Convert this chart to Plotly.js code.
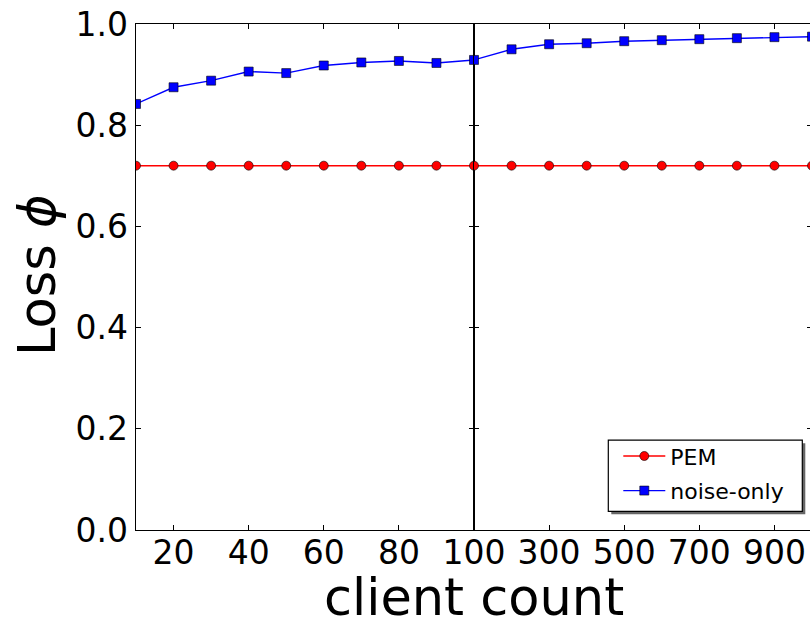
<!DOCTYPE html>
<html>
<head>
<meta charset="utf-8">
<script src="https://cdn.plot.ly/plotly-3.0.1.min.js"></script>
<style>
html,body{margin:0;padding:0;overflow:hidden;background:#fff;}
#chart{width:812px;height:618px;}
</style>
</head>
<body>
<div id="chart"></div>
<script>
// ---- data ----
var clientCounts = [10,20,30,40,50,60,70,80,90,100,200,300,400,500,600,700,800,900,1000];
var pemLoss      = [0.72,0.72,0.72,0.72,0.72,0.72,0.72,0.72,0.72,0.72,0.72,0.72,0.72,0.72,0.72,0.72,0.72,0.72,0.72];
var noiseLoss    = [0.842,0.875,0.888,0.906,0.903,0.918,0.924,0.927,0.923,0.929,0.950,0.960,0.962,0.966,0.968,0.970,0.972,0.974,0.975];
var leftTicks  = [20,40,60,80,100];
var rightTicks = [300,500,700,900];
var yTicks     = [0.0,0.2,0.4,0.6,0.8,1.0];
var seriesNames = ['PEM','noise-only'];

function pick(xs, ys, lo, hi){
  var ox=[], oy=[];
  for (var i=0;i<xs.length;i++){ if (xs[i]>=lo && xs[i]<=hi){ ox.push(xs[i]); oy.push(ys[i]); } }
  return {x:ox, y:oy};
}
var FONT = 'DejaVu Sans, Liberation Sans, sans-serif';
var pemStyle = {line:{color:'#ff0000',width:1.4}, marker:{symbol:'circle',size:9,color:'#ff0000',line:{color:'#000',width:0.6}}};
var noiseStyle = {line:{color:'#0000ff',width:1.4}, marker:{symbol:'square',size:9,color:'#0000ff',line:{color:'#000',width:0.6}}};

var pL = pick(clientCounts, pemLoss, 10, 100), pR = pick(clientCounts, pemLoss, 100, 1000);
var nL = pick(clientCounts, noiseLoss, 10, 100), nR = pick(clientCounts, noiseLoss, 100, 1000);

var traces = [
  {x:pL.x, y:pL.y, mode:'lines+markers', name:seriesNames[0], legendgroup:'a', xaxis:'x', yaxis:'y', line:pemStyle.line, marker:pemStyle.marker},
  {x:nL.x, y:nL.y, mode:'lines+markers', name:seriesNames[1], legendgroup:'b', xaxis:'x', yaxis:'y', line:noiseStyle.line, marker:noiseStyle.marker},
  {x:pR.x, y:pR.y, mode:'lines+markers', name:seriesNames[0], legendgroup:'a', showlegend:false, xaxis:'x2', yaxis:'y2', line:pemStyle.line, marker:pemStyle.marker},
  {x:nR.x, y:nR.y, mode:'lines+markers', name:seriesNames[1], legendgroup:'b', showlegend:false, xaxis:'x2', yaxis:'y2', line:noiseStyle.line, marker:noiseStyle.marker}
];

var axCommon = {ticks:'inside', ticklen:5, tickwidth:1, tickcolor:'#000', showline:true, linecolor:'#000', linewidth:1.3,
  mirror:'ticks', showgrid:false, zeroline:false, tickfont:{family:FONT,size:33,color:'#000'}, fixedrange:true};
function ax(o){ var r={}; for (var k in axCommon) r[k]=axCommon[k]; for (var k2 in o) r[k2]=o[k2]; return r; }

var L=135.7, R=0.3, T=24.3, B=88.3, W=812, H=618;
var pw=W-L-R, ph=H-T-B;
function px(xp){ return (xp-L)/pw; }
function py(yp){ return (H-B-yp)/ph; }

var layout = {
  width:W, height:H,
  margin:{l:L, r:R, t:T, b:B, pad:0},
  paper_bgcolor:'#fff', plot_bgcolor:'#fff',
  font:{family:FONT, color:'#000'},
  showlegend:true,
  xaxis: ax({domain:[0,0.5], range:[10,100], tickmode:'array', tickvals:leftTicks, ticktext:leftTicks.map(String), anchor:'y', ticklabelstandoff:-7}),
  xaxis2: ax({domain:[0.5,1], range:[100,1000], tickmode:'array', tickvals:rightTicks, ticktext:rightTicks.map(String), anchor:'y2', ticklabelstandoff:-7}),
  yaxis: ax({domain:[0,1], range:[0,1], tickmode:'array', tickvals:yTicks, ticktext:yTicks.map(function(v){return v.toFixed(1);}), anchor:'x'}),
  yaxis2: ax({domain:[0,1], range:[0,1], tickmode:'array', tickvals:yTicks, showticklabels:false, anchor:'x2'}),
  legend:{x:px(618), xanchor:'left', y:py(435), yanchor:'top', bgcolor:'rgba(0,0,0,0)', borderwidth:0,
    font:{family:FONT, size:22, color:'#000'}, itemwidth:42, traceorder:'grouped', tracegroupgap:3},
  shapes:[
    {type:'rect', xref:'paper', yref:'paper', x0:px(611), x1:px(805), y0:py(514), y1:py(443), fillcolor:'#666', line:{width:0}, layer:'above'},
    {type:'rect', xref:'paper', yref:'paper', x0:px(608), x1:px(802), y0:py(511), y1:py(440), fillcolor:'#fff', line:{color:'#000', width:1.2}, layer:'above'}
  ],
  annotations:[
    {text:'client count', xref:'paper', yref:'paper', x:0.5, y:0, xanchor:'center', yanchor:'middle', yshift:-67, showarrow:false,
      font:{family:FONT, size:51, color:'#000'}},
    {text:'Loss <i>ϕ</i>', xref:'paper', yref:'paper', x:0, y:0.5, xanchor:'center', yanchor:'middle', xshift:-99, yshift:2, textangle:-90, showarrow:false,
      font:{family:FONT, size:51, color:'#000'}}
  ]
};
Plotly.newPlot('chart', traces, layout, {displayModeBar:false, staticPlot:true});
</script>
</body>
</html>
